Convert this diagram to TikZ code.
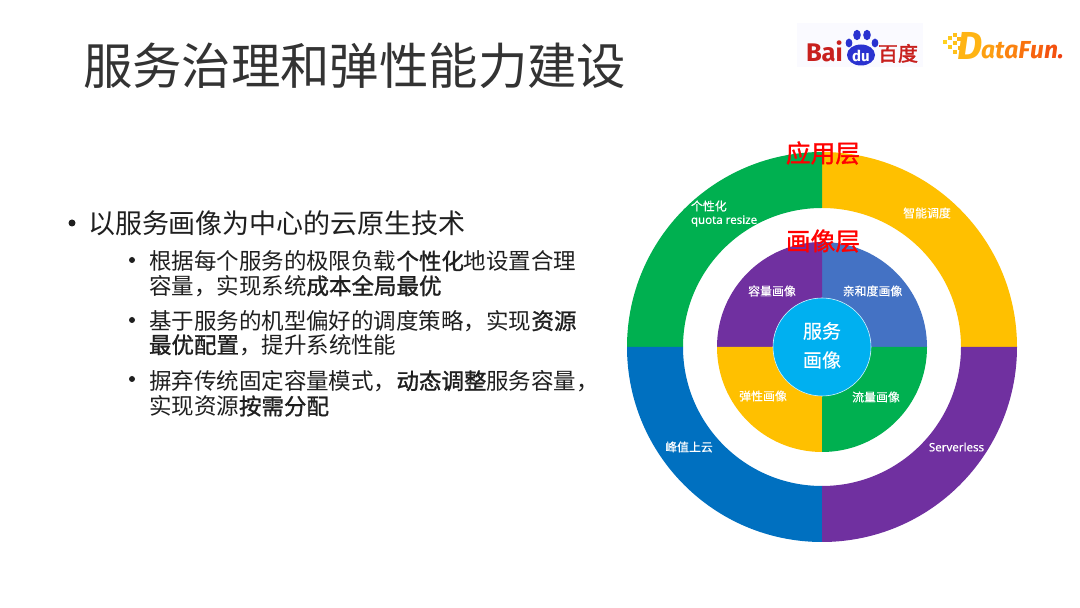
\documentclass[tikz,border=0pt]{standalone}
\usepackage{fontspec}
\setmainfont{Noto Sans CJK SC}[BoldFont=Noto Sans CJK SC,BoldFeatures={FakeBold=1.2}]
\newfontfamily\latf{Noto Sans}[FakeBold=0.3]
\newfontfamily\cjkmed{Noto Sans CJK SC}[FakeBold=0.35]
\newfontfamily\cjkheavy{Noto Sans CJK SC}[FakeBold=2.2]
\newfontfamily\brand{Fira Sans}
\definecolor{cgreen}{HTML}{00B050}
\definecolor{cyellow}{HTML}{FFC000}
\definecolor{cblue}{HTML}{0070C0}
\definecolor{cpurple}{HTML}{7030A0}
\definecolor{csteel}{HTML}{4472C4}
\definecolor{ccyan}{HTML}{00B0F0}
\definecolor{bred}{HTML}{C8201E}
\definecolor{bblue}{HTML}{2A32D0}
\newcommand{\wedgepart}[5]{\fill[#1] ([shift={(822,261)}]#2:#5) arc[start angle=#2,end angle=#3,radius=#5] -- ([shift={(822,261)}]#3:#4) arc[start angle=#3,end angle=#2,radius=#4] -- cycle;}
\newcommand{\pxfont}[1]{\fontsize{#1}{#1}\selectfont}
\begin{document}
\begin{tikzpicture}[x=1pt,y=1pt,
  every node/.style={inner sep=0pt,outer sep=0pt},
  titletext/.style={anchor=west,text=black!80,font=\pxfont{49.4}},
  mainline/.style={anchor=west,text=black!88,font=\pxfont{27}},
  subline/.style={anchor=west,text=black!88,font=\pxfont{22.5}},
  bulletdot/.style={circle,fill=black!88},
  ringlabel/.style={text=white,font=\cjkmed\pxfont{11.9}},
  latinlabel/.style={text=white,font=\latf\pxfont{11.5}},
  layerlabel/.style={text=red,font=\bfseries\pxfont{24.7}},
  hublabel/.style={text=white,font=\cjkmed\pxfont{19}}]
\useasboundingbox (0,0) rectangle (1080,608);
\fill[white] (0,0) rectangle (1080,608);
% title
\node[titletext] (title) at (83,542) {服务治理和弹性能力建设};
% bullets
\node[bulletdot,minimum size=7pt] (b0) at (72,385) {};
\node[mainline] (m0) at (88,385) {以服务画像为中心的云原生技术};
\node[bulletdot,minimum size=6pt] (b1) at (132,348) {};
\node[subline] (s1a) at (149,347) {根据每个服务的极限负载\textbf{个性化}地设置合理};
\node[subline] (s1b) at (149,322) {容量，实现系统\textbf{成本全局最优}};
\node[bulletdot,minimum size=6pt] (b2) at (132,288) {};
\node[subline] (s2a) at (149,287) {基于服务的机型偏好的调度策略，实现\textbf{资源}};
\node[subline] (s2b) at (149,263) {\textbf{最优配置}，提升系统性能};
\node[bulletdot,minimum size=6pt] (b3) at (132,229) {};
\node[subline] (s3a) at (149,227) {摒弃传统固定容量模式，\textbf{动态调整}服务容量，};
\node[subline] (s3b) at (149,202) {实现资源\textbf{按需分配}};
% outer ring
\wedgepart{cyellow}{0}{90}{139}{195}
\wedgepart{cgreen}{90}{180}{139}{195}
\wedgepart{cblue}{180}{270}{139}{195}
\wedgepart{cpurple}{270}{360}{139}{195}
% inner ring
\wedgepart{csteel}{0}{90}{49}{105}
\wedgepart{cpurple}{90}{180}{49}{105}
\wedgepart{cyellow}{180}{270}{49}{105}
\wedgepart{cgreen}{270}{360}{49}{105}
\node[circle,fill=ccyan,draw=white!80!ccyan,line width=.6pt,minimum size=98pt] (hub) at (822,261) {};
% ring labels
\node[ringlabel,anchor=west] (q1) at (691,402) {个性化};
\node[latinlabel,anchor=west] (q2) at (691,387) {quota resize};
\node[ringlabel] (l2) at (927,395) {智能调度};
\node[ringlabel] (l3) at (689,161) {峰值上云};
\node[latinlabel] (l4) at (956.5,161) {Serverless};
\node[ringlabel] (i1) at (772,317) {容量画像};
\node[ringlabel] (i2) at (872.5,317) {亲和度画像};
\node[ringlabel] (i3) at (763,212) {弹性画像};
\node[ringlabel] (i4) at (876,211) {流量画像};
\node[hublabel] (h1) at (822,277) {服务};
\node[hublabel] (h2) at (822,248) {画像};
\node[layerlabel] (la) at (823,455) {应用层};
\node[layerlabel] (lb) at (823,367) {画像层};
% Baidu logo
\fill[blue!2] (797,541) rectangle (923,585);
\node[anchor=base west,text=bred,font=\brand\bfseries\pxfont{25.5}] (bai) at (806,546) {Bai};
\fill[bblue] (857,573) ellipse (3.8 and 5.2);
\fill[bblue] (867,573) ellipse (3.8 and 5.2);
\fill[bblue] (849,565) ellipse (3.4 and 4.4);
\fill[bblue] (875,565) ellipse (3.4 and 4.4);
\fill[bblue] (861,553) ellipse (14 and 10.5);
\node[text=white,font=\brand\bfseries\pxfont{15}] (du) at (861,552) {du};
\node[anchor=base west,text=bred,font=\cjkheavy\pxfont{20}] (bdu) at (878,547) {百度};
% DataFun logo
\foreach \qx/\qy/\qc in {945/566/FFD21F,950/570/FFC91C,955/573/FFC01A,950/561/FFC91C,955/565/FFC01A,959/569/FFB518,955/556/FFC01A,960/560/FFB518}{
  \definecolor{tmpc}{HTML}{\qc}
  \fill[tmpc] (\qx-2,\qy-2) rectangle (\qx+2,\qy+2);
}
\node[anchor=base west,font=\brand\bfseries\itshape\pxfont{39}] (dfd) at (957,548) {\color[HTML]{FFB414}D};
\node[anchor=base west,font=\brand\bfseries\itshape\pxfont{24.6}] (dfr) at (981,549) {\color[HTML]{FDA012}a\color[HTML]{FC9010}t\color[HTML]{FB820F}a\color[HTML]{F9720E}F\color[HTML]{F7620E}u\color[HTML]{F4520F}n\color[HTML]{EE4010}.};
\end{tikzpicture}
\end{document}
